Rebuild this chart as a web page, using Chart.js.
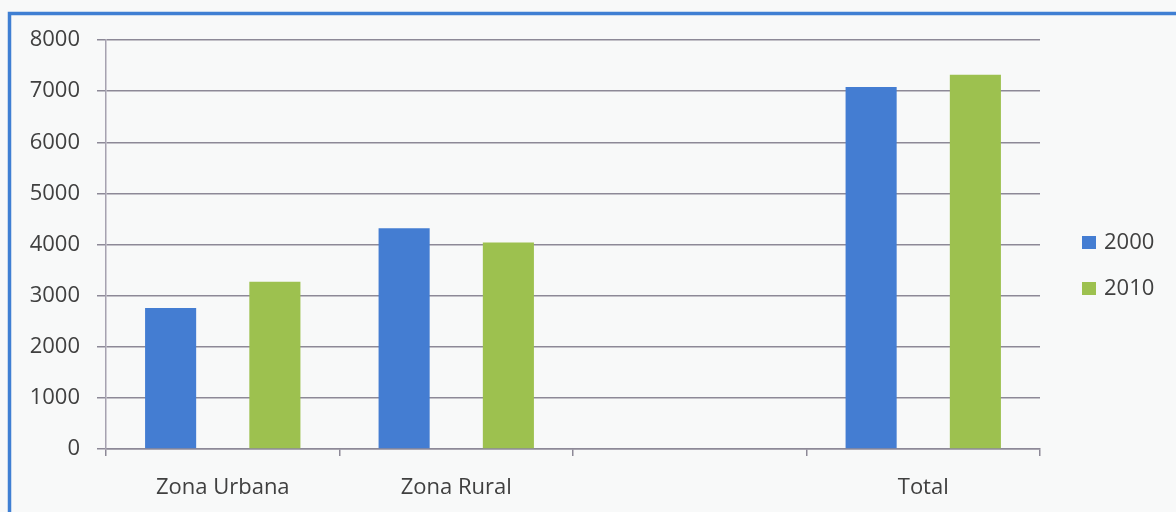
<!DOCTYPE html>
<html>
<head>
<meta charset="utf-8">
<script src="https://cdn.jsdelivr.net/npm/chart.js@4"></script>
<style>
  html, body { margin: 0; padding: 0; background: #f8f9f9; }
  #wrap { width: 1176px; height: 512px; }
</style>
</head>
<body>
<div id="wrap"><canvas id="c" width="1176" height="512"></canvas></div>
<script>
// Population by zone, 2000 vs 2010
const categories = ['Zona Urbana', 'Zona Rural', '', 'Total'];
const seriesLabels = ['2000', '2010'];
const values2000 = [2760, 4320, null, 7080];
const values2010 = [3270, 4040, null, 7320];
const yTicks = [0, 1000, 2000, 3000, 4000, 5000, 6000, 7000, 8000];

const colors = ['#447dd2', '#9dc14f'];
const gridColor = '#8d8997';
const textColor = '#404040';
const fontFamily = '"Open Sans", "DejaVu Sans", sans-serif';

// Page background and the blue frame around the chart
const framePlugin = {
  id: 'frame',
  beforeDraw(chart) {
    const ctx = chart.ctx;
    ctx.save();
    ctx.fillStyle = '#f8f9f9';
    ctx.fillRect(0, 0, chart.width, chart.height);
    ctx.strokeStyle = '#3f7fd3';
    ctx.lineWidth = 3.5;
    ctx.strokeRect(9.5, 13.5, chart.width + 20, chart.height + 20);
    ctx.restore();
  }
};

// Legend on the right: square swatch followed by the series name
const sideLegend = {
  id: 'sideLegend',
  afterDraw(chart) {
    const ctx = chart.ctx;
    ctx.save();
    ctx.font = '22px ' + fontFamily;
    ctx.textBaseline = 'middle';
    ctx.textAlign = 'left';
    chart.data.datasets.forEach((ds, i) => {
      const cy = 242 + i * 46;
      ctx.fillStyle = ds.backgroundColor;
      ctx.fillRect(1082, cy - 6, 14, 13);
      ctx.fillStyle = textColor;
      ctx.fillText(ds.label, 1104, cy + 1);
    });
    ctx.restore();
  }
};

new Chart(document.getElementById('c'), {
  type: 'bar',
  data: {
    labels: categories,
    datasets: [
      { label: seriesLabels[0], data: values2000, backgroundColor: colors[0] },
      { label: seriesLabels[1], data: values2010, backgroundColor: colors[1] }
    ]
  },
  options: {
    responsive: false,
    animation: false,
    devicePixelRatio: 1,
    layout: { padding: { left: 0, right: 136, top: 40, bottom: 0 } },
    datasets: {
      bar: { categoryPercentage: 0.893, barPercentage: 0.49 }
    },
    plugins: {
      legend: { display: false },
      tooltip: { enabled: false }
    },
    scales: {
      x: {
        grid: {
          display: true,
          drawOnChartArea: false,
          drawTicks: true,
          tickLength: 7,
          color: gridColor,
          lineWidth: 1.5
        },
        border: { display: true, color: gridColor, width: 1.5 },
        ticks: {
          color: textColor,
          font: { family: fontFamily, size: 22 },
          padding: 19,
          maxRotation: 0,
          autoSkip: false
        },
        afterFit(scale) { scale.height = 63; }
      },
      y: {
        min: 0,
        max: 8000,
        afterBuildTicks(scale) {
          scale.ticks = yTicks.map(v => ({ value: v }));
        },
        grid: {
          color: gridColor,
          lineWidth: 1.5,
          drawTicks: true,
          tickLength: 9
        },
        border: { display: true, color: '#a6a2b0', width: 1.5 },
        ticks: {
          color: textColor,
          font: { family: fontFamily, size: 22 },
          padding: 17,
          callback: (value) => String(value)
        },
        afterFit(scale) { scale.width = 106; }
      }
    }
  },
  plugins: [framePlugin, sideLegend]
});
</script>
</body>
</html>
